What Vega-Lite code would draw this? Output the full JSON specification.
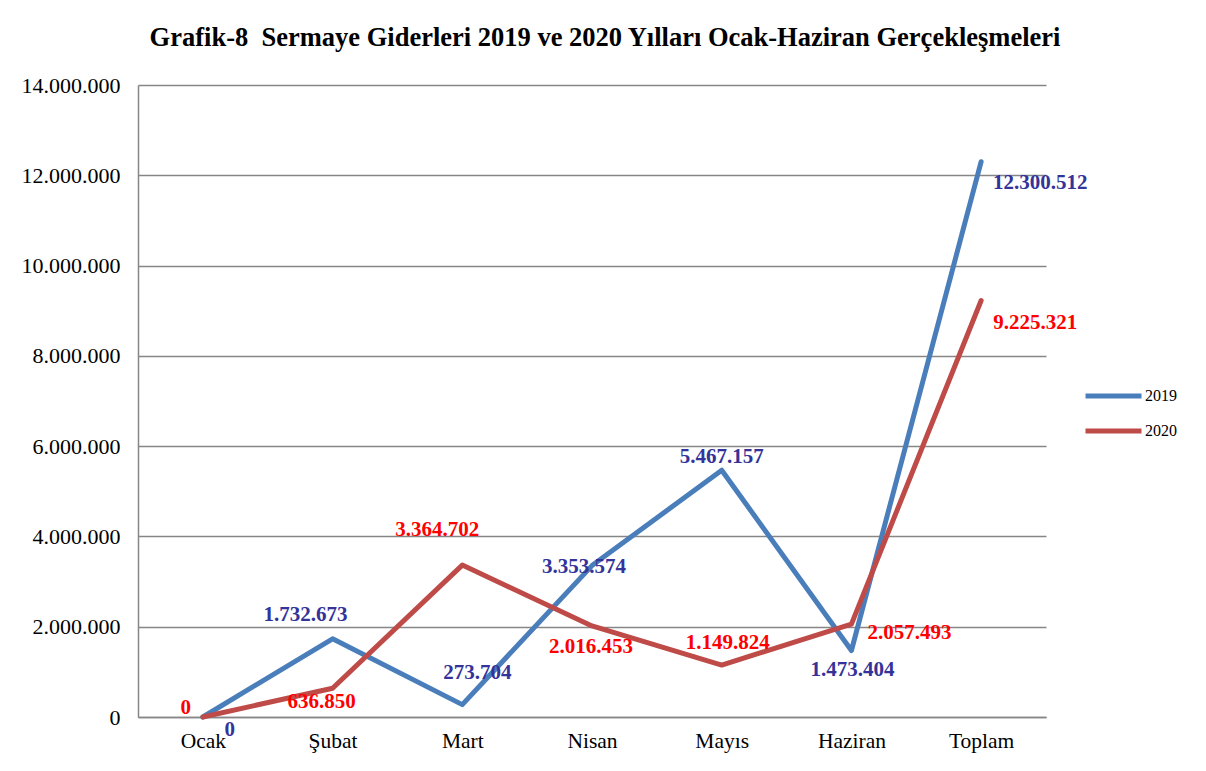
{
  "$schema": "https://vega.github.io/schema/vega-lite/v6.json",
  "autosize": "none",
  "width": 908,
  "height": 632,
  "padding": {"left": 138, "top": 85, "right": 160, "bottom": 54},
  "background": "white",
  "title": {
    "text": "Grafik-8\u00a0 Sermaye Giderleri 2019 ve 2020 Yılları Ocak-Haziran Gerçekleşmeleri",
    "font": "Liberation Serif",
    "fontSize": 26.5,
    "fontWeight": "bold",
    "color": "black",
    "anchor": "middle",
    "frame": "group",
    "dx": 13,
    "offset": 23
  },
  "config": {
    "locale": {"number": {"decimal": ",", "thousands": ".", "grouping": [3], "currency": ["", " TL"]}},
    "view": {"stroke": null},
    "axis": {"labelFont": "Liberation Serif", "titleFont": "Liberation Serif"},
    "legend": {"labelFont": "Liberation Serif"}
  },
  "data": {
    "values": [
      {"month": "Ocak", "year": "2019", "value": 0},
      {"month": "Şubat", "year": "2019", "value": 1732673},
      {"month": "Mart", "year": "2019", "value": 273704},
      {"month": "Nisan", "year": "2019", "value": 3353574},
      {"month": "Mayıs", "year": "2019", "value": 5467157},
      {"month": "Haziran", "year": "2019", "value": 1473404},
      {"month": "Toplam", "year": "2019", "value": 12300512},
      {"month": "Ocak", "year": "2020", "value": 0},
      {"month": "Şubat", "year": "2020", "value": 636850},
      {"month": "Mart", "year": "2020", "value": 3364702},
      {"month": "Nisan", "year": "2020", "value": 2016453},
      {"month": "Mayıs", "year": "2020", "value": 1149824},
      {"month": "Haziran", "year": "2020", "value": 2057493},
      {"month": "Toplam", "year": "2020", "value": 9225321}
    ]
  },
  "encoding": {
    "x": {
      "field": "month", "type": "ordinal",
      "sort": ["Ocak", "Şubat", "Mart", "Nisan", "Mayıs", "Haziran", "Toplam"],
      "scale": {"type": "point", "padding": 0.5},
      "axis": {"title": null, "labelAngle": 0, "labelFontSize": 21.5, "labelColor": "black", "ticks": false, "domainColor": "#868686", "domainWidth": 1.5, "labelPadding": 13, "grid": false}
    },
    "y": {
      "field": "value", "type": "quantitative",
      "scale": {"domain": [0, 14000000], "nice": false},
      "axis": {"title": null, "values": [0, 2000000, 4000000, 6000000, 8000000, 10000000, 12000000, 14000000], "format": ",.0f", "labelFontSize": 22, "labelColor": "black", "ticks": false, "domainColor": "#868686", "domainWidth": 1.5, "gridColor": "#868686", "gridWidth": 1.5, "labelPadding": 18}
    }
  },
  "layer": [
    {
      "mark": {"type": "line", "strokeWidth": 5, "strokeCap": "round", "strokeJoin": "round"},
      "encoding": {
        "color": {
          "field": "year", "type": "nominal",
          "scale": {"domain": ["2019", "2020"], "range": ["#4a7ebb", "#be4b48"]},
          "legend": {"title": null, "orient": "none", "legendX": 945, "legendY": 301, "symbolType": "stroke", "symbolSize": 3136, "symbolStrokeWidth": 5, "labelFontSize": 16, "labelColor": "black", "labelOffset": 1, "clipHeight": 20, "rowPadding": 15, "padding": 0}
        }
      }
    },
    {"transform": [{"filter": "datum.year=='2019' && datum.month=='Ocak'"}], "mark": {"type": "text", "font": "Liberation Serif", "fontWeight": "bold", "fontSize": 21, "color": "#333399", "dx": 27, "dy": 13}, "encoding": {"text": {"field": "value", "type": "quantitative", "format": ",.0f"}}},
    {"transform": [{"filter": "datum.year=='2019' && datum.month=='Şubat'"}], "mark": {"type": "text", "font": "Liberation Serif", "fontWeight": "bold", "fontSize": 21, "color": "#333399", "dx": -27, "dy": -24}, "encoding": {"text": {"field": "value", "type": "quantitative", "format": ",.0f"}}},
    {"transform": [{"filter": "datum.year=='2019' && datum.month=='Mart'"}], "mark": {"type": "text", "font": "Liberation Serif", "fontWeight": "bold", "fontSize": 21, "color": "#333399", "dx": 15, "dy": -32}, "encoding": {"text": {"field": "value", "type": "quantitative", "format": ",.0f"}}},
    {"transform": [{"filter": "datum.year=='2019' && datum.month=='Nisan'"}], "mark": {"type": "text", "font": "Liberation Serif", "fontWeight": "bold", "fontSize": 21, "color": "#333399", "dx": -8, "dy": 1}, "encoding": {"text": {"field": "value", "type": "quantitative", "format": ",.0f"}}},
    {"transform": [{"filter": "datum.year=='2019' && datum.month=='Mayıs'"}], "mark": {"type": "text", "font": "Liberation Serif", "fontWeight": "bold", "fontSize": 21, "color": "#333399", "dx": 0, "dy": -13}, "encoding": {"text": {"field": "value", "type": "quantitative", "format": ",.0f"}}},
    {"transform": [{"filter": "datum.year=='2019' && datum.month=='Haziran'"}], "mark": {"type": "text", "font": "Liberation Serif", "fontWeight": "bold", "fontSize": 21, "color": "#333399", "dx": 1, "dy": 20}, "encoding": {"text": {"field": "value", "type": "quantitative", "format": ",.0f"}}},
    {"transform": [{"filter": "datum.year=='2019' && datum.month=='Toplam'"}], "mark": {"type": "text", "font": "Liberation Serif", "fontWeight": "bold", "fontSize": 21, "color": "#333399", "dx": 59, "dy": 21}, "encoding": {"text": {"field": "value", "type": "quantitative", "format": ",.0f"}}},
    {"transform": [{"filter": "datum.year=='2020' && datum.month=='Ocak'"}], "mark": {"type": "text", "font": "Liberation Serif", "fontWeight": "bold", "fontSize": 21, "color": "#ff0000", "dx": -17, "dy": -9}, "encoding": {"text": {"field": "value", "type": "quantitative", "format": ",.0f"}}},
    {"transform": [{"filter": "datum.year=='2020' && datum.month=='Şubat'"}], "mark": {"type": "text", "font": "Liberation Serif", "fontWeight": "bold", "fontSize": 21, "color": "#ff0000", "dx": -11, "dy": 14}, "encoding": {"text": {"field": "value", "type": "quantitative", "format": ",.0f"}}},
    {"transform": [{"filter": "datum.year=='2020' && datum.month=='Mart'"}], "mark": {"type": "text", "font": "Liberation Serif", "fontWeight": "bold", "fontSize": 21, "color": "#ff0000", "dx": -25, "dy": -35}, "encoding": {"text": {"field": "value", "type": "quantitative", "format": ",.0f"}}},
    {"transform": [{"filter": "datum.year=='2020' && datum.month=='Nisan'"}], "mark": {"type": "text", "font": "Liberation Serif", "fontWeight": "bold", "fontSize": 21, "color": "#ff0000", "dx": -1, "dy": 21}, "encoding": {"text": {"field": "value", "type": "quantitative", "format": ",.0f"}}},
    {"transform": [{"filter": "datum.year=='2020' && datum.month=='Mayıs'"}], "mark": {"type": "text", "font": "Liberation Serif", "fontWeight": "bold", "fontSize": 21, "color": "#ff0000", "dx": 6, "dy": -22}, "encoding": {"text": {"field": "value", "type": "quantitative", "format": ",.0f"}}},
    {"transform": [{"filter": "datum.year=='2020' && datum.month=='Haziran'"}], "mark": {"type": "text", "font": "Liberation Serif", "fontWeight": "bold", "fontSize": 21, "color": "#ff0000", "dx": 58, "dy": 9}, "encoding": {"text": {"field": "value", "type": "quantitative", "format": ",.0f"}}},
    {"transform": [{"filter": "datum.year=='2020' && datum.month=='Toplam'"}], "mark": {"type": "text", "font": "Liberation Serif", "fontWeight": "bold", "fontSize": 21, "color": "#ff0000", "dx": 54, "dy": 22}, "encoding": {"text": {"field": "value", "type": "quantitative", "format": ",.0f"}}}
  ]
}
